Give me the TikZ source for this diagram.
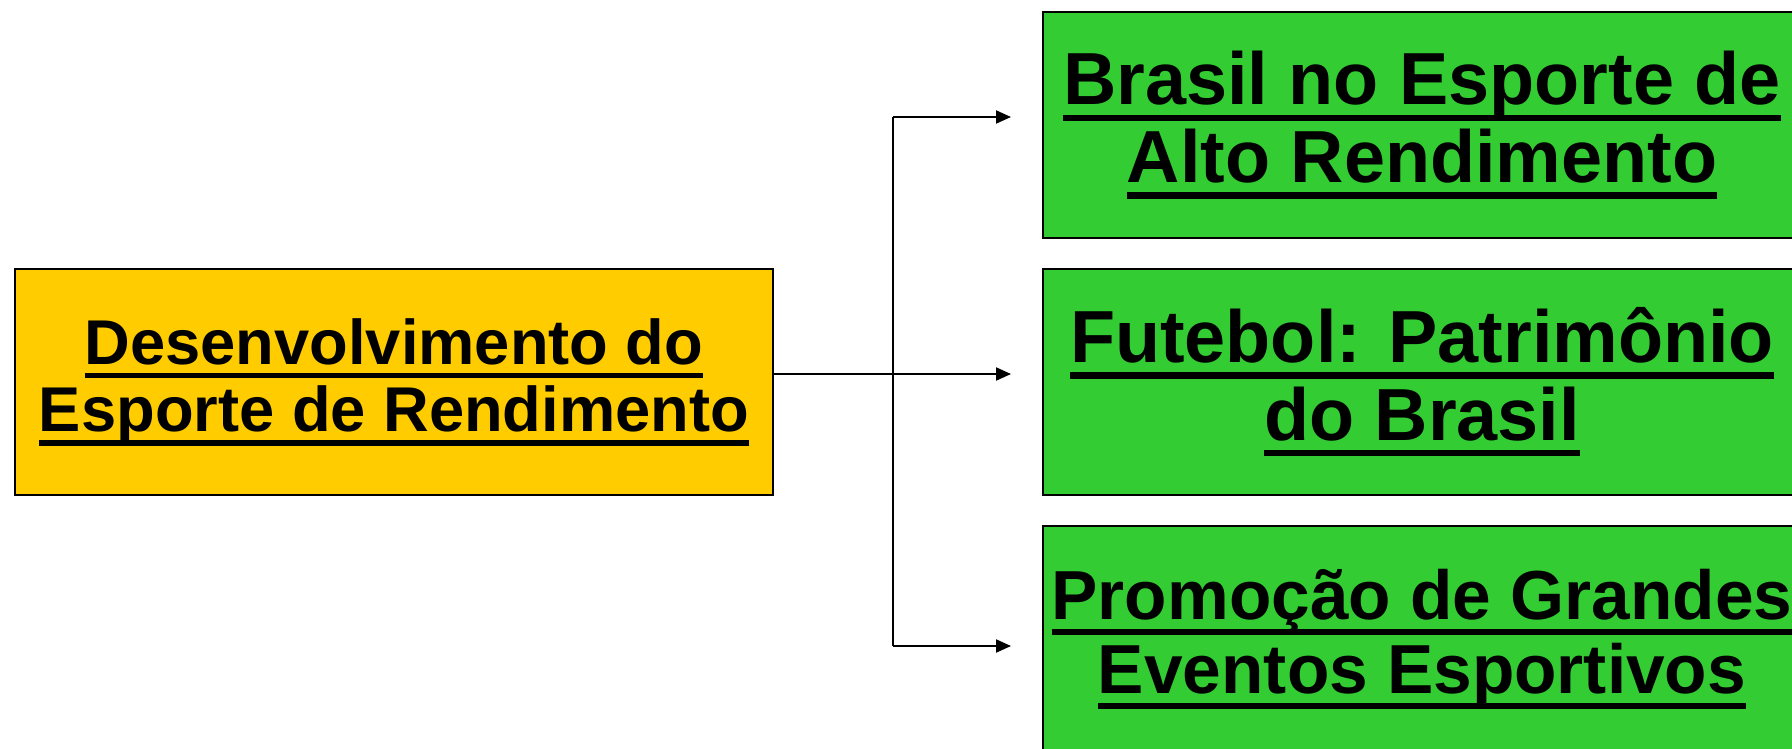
\documentclass[tikz,border=0pt]{standalone}
\usepackage{fontspec}
\setmainfont{Liberation Sans}
\usetikzlibrary{arrows.meta}

\definecolor{boxyellow}{HTML}{FFCC00}
\definecolor{boxgreen}{HTML}{33CC33}

\newsavebox{\ulbx}
\newcommand{\ulined}[1]{\sbox{\ulbx}{#1}\leavevmode\rlap{\usebox{\ulbx}}\rule[-0.215em]{\wd\ulbx}{0.085em}}

\begin{document}
\begin{tikzpicture}[
            main box/.style={rectangle,draw=black,line width=1.1pt,minimum width=15.16cm,
                minimum height=4.52cm,inner sep=0pt,align=center,
                font=\fontsize{36}{38.5}\selectfont\bfseries},
            goal box/.style={main box,fill=boxgreen,
                font=\fontsize{42}{44.2}\selectfont\bfseries},
            conn/.style={line width=1.1pt},
            arr/.style={conn,-{Triangle[length=0.3cm,width=0.26cm]},shorten >=0.62cm},
            ]
            
            \useasboundingbox (0,0) rectangle (35.84,-14.98);
            \clip (0,0) rectangle (35.84,-14.98);
            
            \node[main box, fill=boxyellow] (dev) at (7.88,-7.64) {\ulined{Desenvolvimento do}\\\ulined{Esporte de Rendimento}};
            
            \node[goal box] (alto) at (28.44,-2.50) {\ulined{Brasil no Esporte de}\\\ulined{Alto Rendimento}};
            \node[goal box] (futebol) at (28.44,-7.64) {\ulined{Futebol: Patrimônio}\\\ulined{do Brasil}};
            \node[goal box, font=\fontsize{39.5}{42}\selectfont\bfseries] (eventos) at (28.44,-12.78) {\ulined{Promoção de Grandes}\\\ulined{Eventos Esportivos}};
            
            \coordinate (j1) at (17.86,-2.34);
            \coordinate (j2) at (17.86,-7.48);
            \coordinate (j3) at (17.86,-12.92);
            
            \draw[conn] (j1) -- (j3);
            \draw[arr] (dev.east |- j2) -- (j2 -| futebol.west);
            \draw[arr] (j1) -- (j1 -| alto.west);
            \draw[arr] (j3) -- (j3 -| eventos.west);
        \end{tikzpicture}
\end{document}
